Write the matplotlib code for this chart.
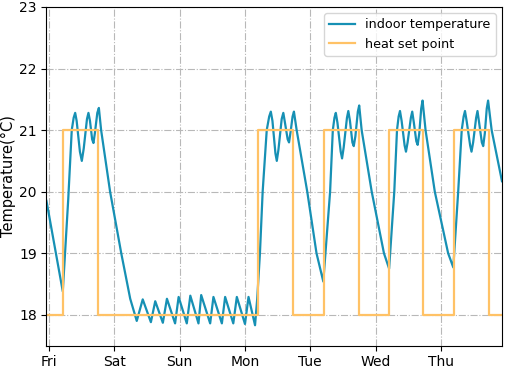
import matplotlib
matplotlib.use("Agg")
import matplotlib.pyplot as plt

plt.rcParams["font.size"] = 10

# hours since Friday 00:00
day_labels = ["Fri", "Sat", "Sun", "Mon", "Tue", "Wed", "Thu"]

# indoor temperature
temp_hours = [
    -1.0, 5.0, 7.0, 8.3, 9.0, 9.56, 10.1, 11.3, 12.0, 12.7, 13.9, 14.44, 15.0,
    15.8, 16.28, 16.8, 17.7, 18.27, 19.1, 22.4, 26.5, 29.8, 32.2,
    34.4, 37.4, 39.0, 41.8, 43.3, 46.3, 47.6, 50.6, 51.9, 54.9, 55.9, 59.2,
    60.4, 63.5, 64.7, 67.7, 69.0, 72.0, 73.3, 75.7,
    76.5, 77.5, 78.5, 80.0, 80.9, 81.5, 82.1, 83.2, 83.7, 84.3, 85.5, 86.1,
    86.7, 87.7, 88.2, 88.8, 89.5, 90.0, 91.0, 94.9, 98.3, 100.8,
    103.3, 104.3, 104.9, 105.4, 106.0, 107.2, 107.7, 108.3, 109.5, 110.0,
    110.6, 111.5, 112.0, 112.6, 113.5, 114.0, 114.9, 118.6, 123.1, 125.0,
    126.9, 127.9, 128.5, 129.0, 129.6, 130.7, 131.2, 131.8, 133.0, 133.5,
    134.1, 135.0, 135.5, 136.1, 136.8, 137.3, 138.4, 141.8, 146.7, 148.6,
    150.4, 151.7, 152.4, 152.9, 153.5, 154.8, 155.3, 155.9, 157.0, 157.5,
    158.1, 159.1, 159.6, 160.2, 160.9, 161.4, 162.7, 166.5,
]
indoor_temp = [
    19.85, 18.38, 19.87, 21.0, 21.2, 21.28, 21.15, 20.65, 20.50, 20.7, 21.18, 21.28, 21.15,
    20.85, 20.79, 20.95, 21.28, 21.36, 21.0, 20.0, 19.0, 18.26, 17.90,
    18.25, 17.88, 18.22, 17.87, 18.26, 17.86, 18.29, 17.86, 18.31, 17.86, 18.32, 17.86,
    18.29, 17.86, 18.29, 17.86, 18.29, 17.85, 18.29, 17.83,
    18.26, 19.0, 20.0, 21.0, 21.22, 21.30, 21.15, 20.62, 20.50, 20.68, 21.18, 21.28,
    21.12, 20.85, 20.80, 20.98, 21.22, 21.30, 21.0, 20.0, 19.0, 18.54,
    20.0, 21.0, 21.2, 21.28, 21.12, 20.65, 20.54, 20.72, 21.2, 21.31,
    21.15, 20.8, 20.74, 20.9, 21.3, 21.40, 21.0, 20.0, 19.0, 18.75,
    20.0, 21.0, 21.22, 21.31, 21.15, 20.75, 20.65, 20.8, 21.2, 21.30,
    21.12, 20.82, 20.76, 20.95, 21.35, 21.48, 21.0, 20.0, 19.0, 18.77,
    20.0, 21.0, 21.22, 21.31, 21.15, 20.75, 20.65, 20.8, 21.2, 21.31,
    21.12, 20.8, 20.74, 20.95, 21.35, 21.48, 21.0, 20.17,
]

# heat set point schedule (step changes)
setpoint_hours = [-1.0, 5.0, 17.9, 76.9, 89.8, 100.9, 113.9, 124.8, 137.6, 148.8, 161.6, 166.5]
setpoint_temp = [18, 21, 18, 21, 18, 21, 18, 21, 18, 21, 18, 18]

fig = plt.figure(figsize=(5.05, 3.68), dpi=100)
ax = fig.add_axes([0.092, 0.061, 0.902, 0.920])

ax.plot(temp_hours, indoor_temp, color="#1690b4", lw=1.6, label="indoor temperature")
ax.plot(setpoint_hours, setpoint_temp, color="#ffc266", lw=1.6,
        drawstyle="steps-post", label="heat set point")

ax.set_xlim(-1.0, 166.5)
ax.set_ylim(17.5, 23)
ax.set_xticks([24 * i for i in range(len(day_labels))])
ax.set_xticklabels(day_labels)
ax.set_yticks([18, 19, 20, 21, 22, 23])
ax.set_ylabel("Temperature(°C)", fontsize=10.5, labelpad=2)
ax.grid(True, linestyle="-.", color="#b8b8b8", lw=0.8)
ax.legend(loc="upper right", fontsize=9.2)

fig.savefig("out.png", dpi=100)
